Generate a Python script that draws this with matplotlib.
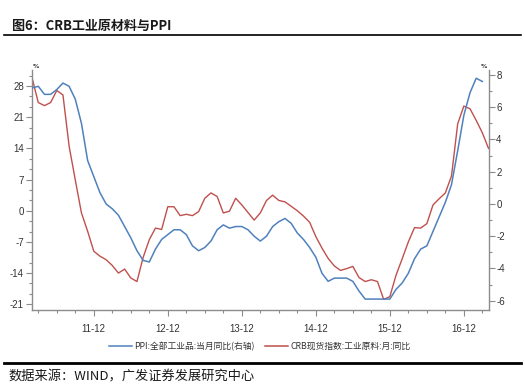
import numpy as np
import pandas as pd
import matplotlib
matplotlib.use("Agg")
import matplotlib.pyplot as plt
import matplotlib.ticker as ticker
from matplotlib.lines import Line2D
from matplotlib import font_manager

# месяцы: 2011-02 ... 2017-04
months = pd.date_range('2011-02-01', periods=75, freq='MS')

# CRB现货指数:工业原料:月:同比 (левая ось)
crb = [29.8, 24.3, 23.6, 24.3, 27.0, 26.0, 14.5, 6.9, -0.5, -4.6, -9.1, -10.2,
       -11.0, -12.3, -14.0, -13.1, -15.1, -15.9, -10.5, -6.5, -3.9, -4.2, 0.9, 0.9,
       -1.1, -0.8, -1.1, -0.2, 2.8, 4.0, 3.2, -0.5, -0.1, 2.8, 1.3, -0.4,
       -2.1, -0.5, 2.3, 3.5, 2.3, 2.0, 1.0, 0.0, -1.2, -2.6, -5.8, -8.4,
       -10.7, -12.4, -13.4, -13.0, -12.5, -15.0, -15.9, -15.5, -15.9, -19.9, -19.3, -14.5,
       -10.8, -7.0, -3.8, -3.9, -2.9, 1.3, 2.7, 4.0, 7.8, 19.5, 23.5, 22.9,
       20.3, 17.5, 14.0]

# PPI:全部工业品:当月同比 (правая ось), 2011-02 ... 2017-03
ppi = [7.2, 7.3, 6.8, 6.8, 7.1, 7.5, 7.3, 6.5, 5.0, 2.7, 1.7,
       0.7, 0.0, -0.3, -0.7, -1.4, -2.1, -2.9, -3.5, -3.6, -2.8, -2.2, -1.9,
       -1.6, -1.6, -1.9, -2.6, -2.9, -2.7, -2.3, -1.6, -1.3, -1.5, -1.4, -1.4,
       -1.6, -2.0, -2.3, -2.0, -1.4, -1.1, -0.9, -1.2, -1.8, -2.2, -2.7, -3.3,
       -4.3, -4.8, -4.6, -4.6, -4.6, -4.8, -5.4, -5.9, -5.9, -5.9, -5.9, -5.9,
       -5.3, -4.9, -4.3, -3.4, -2.8, -2.6, -1.7, -0.8, 0.1, 1.2, 3.3, 5.5,
       6.9, 7.8, 7.6]

left_ticks = [28, 21, 14, 7, 0, -7, -14, -21]
right_ticks = [8, 6, 4, 2, 0, -2, -4, -6]

title = '图6：CRB工业原材料与PPI'
source = '数据来源：WIND，广发证券发展研究中心'
ppi_label = 'PPI:全部工业品:当月同比(右轴)'
crb_label = 'CRB现货指数:工业原料:月:同比'

BLUE = '#4F81BD'
RED = '#C0504D'
GREY = '#8C8C8C'

installed = {f.name for f in font_manager.fontManager.ttflist}
num_font = [f for f in ['Liberation Sans Narrow', 'Liberation Sans', 'DejaVu Sans'] if f in installed]
cjk = ['Noto Sans CJK SC', 'DejaVu Sans']

fig = plt.figure(figsize=(5.25, 3.89), dpi=100)
ax = fig.add_axes([0.060, 0.203, 0.8705, 0.617])
ax2 = ax.twinx()

x = np.arange(len(months))
ax.plot(x, crb, color=RED, lw=1.0)
ax2.plot(x[:len(ppi)], ppi, color=BLUE, lw=1.1)

ax.set_xlim(-0.1, 74.0)
ax.set_ylim(-22.3, 31.6)
ax2.set_ylim(-6.58, 8.31)

# ось X: большие деления на декабрях, малые по кварталам
dec = [i for i, m in enumerate(months) if m.month == 12]
quarters = [i for i, m in enumerate(months) if m.month in (3, 6, 9)]
ax.set_xticks(dec)
ax.set_xticklabels(['%02d-12' % (months[i].year % 100) for i in dec])
ax.set_xticks(quarters, minor=True)

ax.set_yticks(left_ticks)
ax.set_yticklabels([str(v) for v in left_ticks])
ax.yaxis.set_minor_locator(ticker.MultipleLocator(7 / 3))
ax2.set_yticks(right_ticks)
ax2.set_yticklabels([str(v) for v in right_ticks])
ax2.yaxis.set_minor_locator(ticker.MultipleLocator(1))

for a in (ax, ax2):
    a.spines['top'].set_visible(False)
    for s in a.spines.values():
        s.set_color(GREY)
        s.set_linewidth(1.0)
ax.spines['right'].set_visible(False)
ax2.spines['left'].set_visible(False)
ax2.spines['bottom'].set_visible(False)

ax.tick_params(axis='both', which='major', length=4, width=0.8, color=GREY,
               labelsize=7, labelcolor='#333333', pad=1.5)
ax.tick_params(axis='both', which='minor', length=2.5, width=0.8, color=GREY)
ax.tick_params(axis='x', which='major', pad=6)
ax2.tick_params(axis='y', which='major', length=4, width=0.8, color=GREY,
                labelsize=7, labelcolor='#333333', pad=1.5)
ax2.tick_params(axis='y', which='minor', length=2.5, width=0.8, color=GREY)
for lab in ax.get_xticklabels() + ax.get_yticklabels() + ax2.get_yticklabels():
    lab.set_family(num_font)

# значки % над осями
fig.text(33 / 525, 1 - 67 / 389, '%', fontsize=4.5, fontweight='bold', color='#333333',
         ha='left', va='center')
fig.text(487 / 525, 1 - 67 / 389, '%', fontsize=4.5, fontweight='bold', color='#333333',
         ha='right', va='center')

# заголовок и линии
fig.text(12 / 525, 1 - 26 / 389, title, fontsize=9.4, fontweight='bold', family=cjk,
         color='#1a1a1a', ha='left', va='center')
fig.add_artist(Line2D([4 / 525, 521 / 525], [1 - 35 / 389, 1 - 35 / 389],
                      color='black', lw=1.2))
fig.add_artist(Line2D([4 / 525, 521 / 525], [1 - 362.5 / 389, 1 - 362.5 / 389],
                      color='black', lw=2.0))
fig.text(8 / 525, 1 - 377 / 389, source, fontsize=9.5, family=cjk, color='#1a1a1a',
         ha='left', va='center')

handles = [Line2D([], [], color=BLUE, lw=1.1), Line2D([], [], color=RED, lw=1.1)]
leg = fig.legend(handles, [ppi_label, crb_label], loc='center',
                 bbox_to_anchor=(0.495, 1 - 346.5 / 389), ncol=2, frameon=False,
                 prop={'family': cjk, 'size': 6.3}, handlelength=2.6,
                 handletextpad=0.3, columnspacing=1.2)
for t in leg.get_texts():
    t.set_color('#333333')

fig.savefig('out.png', dpi=100)
